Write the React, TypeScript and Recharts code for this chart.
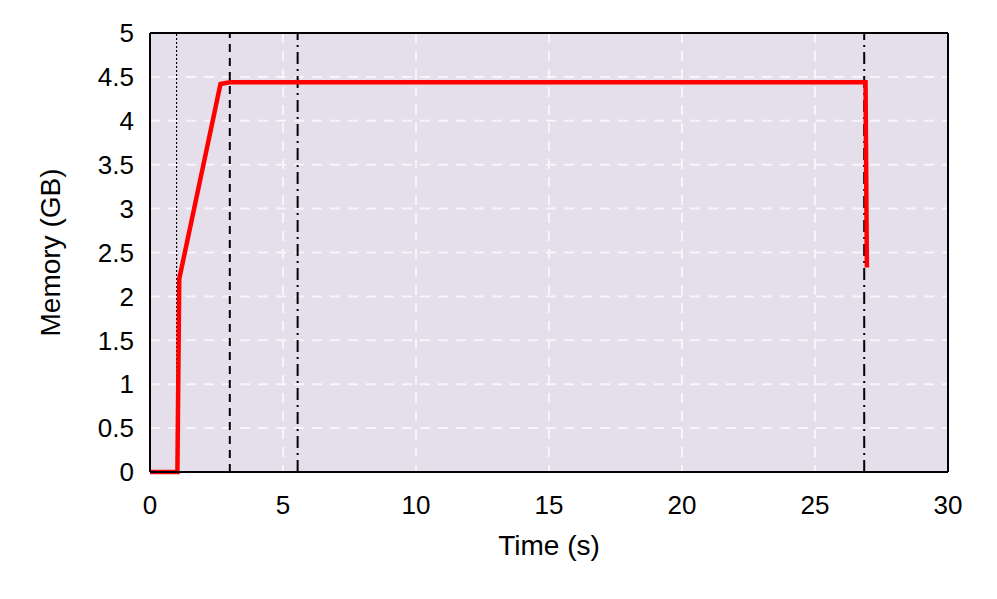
import {
  LineChart,
  Line,
  XAxis,
  YAxis,
  CartesianGrid,
  ReferenceLine,
} from 'recharts';

// memory trace
const timeS = [0, 1.03, 1.1, 2.65, 3.0, 26.9, 26.95];
const memoryGB = [0, 0, 2.2, 4.42, 4.44, 4.44, 2.33];

const xTicks = [0, 5, 10, 15, 20, 25, 30];
const yTicks = [0, 0.5, 1, 1.5, 2, 2.5, 3, 3.5, 4, 4.5, 5];

// phase markers
const markers = [
  { x: 1, dash: '2 2', width: 1.2 },
  { x: 3, dash: '8 6', width: 2 },
  { x: 5.55, dash: '12 5 2 5', width: 2 },
  { x: 26.85, dash: '12 5 2 5', width: 2 },
];

const data = timeS.map((t, i) => ({ t, mem: memoryGB[i] }));

const font = 'Liberation Sans, Arial, Helvetica, sans-serif';
const tickStyle = { fontSize: 26, fill: '#000', fontFamily: font };

export default function App() {
  return (
    <div style={{ position: 'fixed', left: 0, top: 0, background: '#fff' }}>
      <LineChart
        width={997}
        height={599}
        data={data}
        margin={{ top: 33, right: 49, left: 0, bottom: 0 }}
      >
        <CartesianGrid
          xAxisId="b"
          yAxisId="l"
          fill="#E5DFEB"
          stroke="#F7F5F9"
          strokeWidth={2}
          strokeDasharray="10 8"
        />
        <XAxis
          xAxisId="b"
          dataKey="t"
          type="number"
          domain={[0, 30]}
          ticks={xTicks}
          tick={tickStyle}
          tickLine={false}
          axisLine={{ stroke: '#000', strokeWidth: 2 }}
          height={127}
          tickMargin={18}
          label={{
            value: 'Time (s)',
            position: 'insideTop',
            offset: 63,
            style: { fontSize: 28, fill: '#000', fontFamily: font },
          }}
        />
        <YAxis
          yAxisId="l"
          type="number"
          domain={[0, 5]}
          ticks={yTicks}
          tick={tickStyle}
          tickLine={false}
          axisLine={{ stroke: '#000', strokeWidth: 2 }}
          width={150}
          tickMargin={10}
          interval={0}
          label={{
            value: 'Memory (GB)',
            angle: -90,
            position: 'insideLeft',
            offset: 50,
            style: { fontSize: 28, fill: '#000', fontFamily: font, textAnchor: 'middle' },
          }}
        />
        {markers.map((m) => (
          <ReferenceLine
            key={m.x}
            xAxisId="b"
            yAxisId="l"
            x={m.x}
            stroke="#000"
            strokeWidth={m.width}
            strokeDasharray={m.dash}
          />
        ))}
        {/* frame on top and right */}
        <ReferenceLine xAxisId="b" yAxisId="l" y={5} stroke="#000" strokeWidth={2} />
        <ReferenceLine xAxisId="b" yAxisId="l" x={30} stroke="#000" strokeWidth={2} />
        <Line
          xAxisId="b"
          yAxisId="l"
          type="linear"
          dataKey="mem"
          stroke="#FF0000"
          strokeWidth={4.5}
          dot={false}
          isAnimationActive={false}
        />
      </LineChart>
    </div>
  );
}
